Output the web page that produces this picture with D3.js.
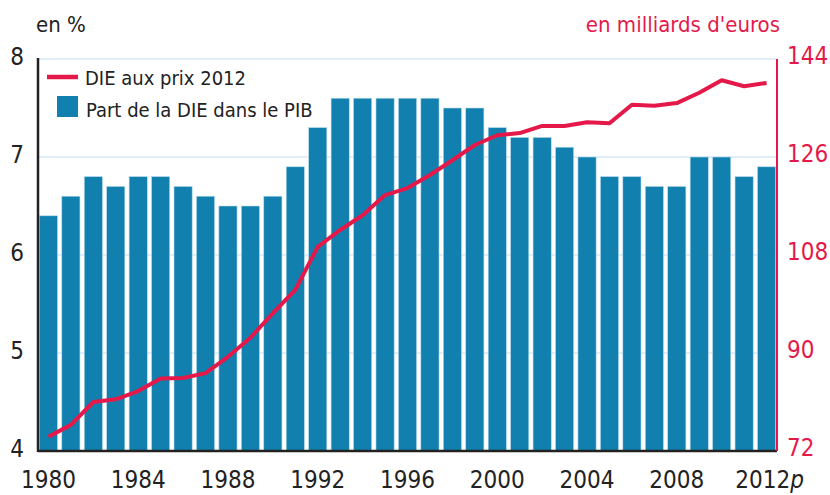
<!DOCTYPE html>
<html>
<head>
<meta charset="utf-8">
<script src="https://cdn.jsdelivr.net/npm/d3@7"></script>
<style>
  body { margin: 0; background: #fff; }
  svg text { font-family: "Liberation Sans Narrow", "Arial Narrow", "DejaVu Sans Condensed", sans-serif; }
</style>
</head>
<body>
<svg id="chart" width="830" height="495"></svg>
<script>
// data
var YEARS = d3.range(1980, 2013)
var PART_PIB = [6.4, 6.6, 6.8, 6.7, 6.8, 6.8, 6.7, 6.6, 6.5, 6.5, 6.6, 6.9,
  7.3, 7.6, 7.6, 7.6, 7.6, 7.6, 7.5, 7.5, 7.3, 7.2, 7.2, 7.1, 7.0, 6.8,
  6.8, 6.7, 6.7, 7.0, 7.0, 6.8, 6.9]
var DIE_PRIX = [74.6, 76.8, 81, 81.5, 83, 85.3, 85.4, 86.3, 89.3, 92.8, 97.3, 101.6,
  109.5, 112.6, 115.3, 119, 120.3, 122.7, 125.4, 128.2, 130, 130.4, 131.7, 131.7, 132.4, 132.2,
  135.6, 135.4, 135.9, 137.8, 140.1, 139, 139.6]
var LEFT_TICKS = [4, 5, 6, 7, 8]
var RIGHT_TICKS = [72, 90, 108, 126, 144]
var YEAR_TICKS = [1980, 1984, 1988, 1992, 1996, 2000, 2004, 2008, 2012]

var RED = "#e4194a", BLUE = "#1280ae", GRID = "#d4e9f6"
var M = {left: 38, right: 777, top: 59, bottom: 451}

var svg = d3.select("#chart")

var x = d3.scaleBand().domain(YEARS).range([M.left, M.right])
  .paddingInner(0.19).paddingOuter(0.06)
var yL = d3.scaleLinear().domain([4, 8]).range([M.bottom, M.top])
var yR = d3.scaleLinear().domain([72, 144]).range([M.bottom, M.top])

// grid lines (behind bars)
svg.append("g").selectAll("line")
  .data(LEFT_TICKS.slice(1))
  .enter().append("line")
    .attr("x1", M.left).attr("x2", M.right)
    .attr("y1", function(d){ return yL(d) })
    .attr("y2", function(d){ return yL(d) })
    .attr("stroke", GRID)
    .attr("stroke-width", 1.5)

// bars
svg.append("g").selectAll("rect")
  .data(PART_PIB)
  .enter().append("rect")
    .attr("x", function(d, i){ return x(YEARS[i]) })
    .attr("y", function(d){ return yL(d) })
    .attr("width", x.bandwidth())
    .attr("height", function(d){ return M.bottom - yL(d) })
    .attr("fill", BLUE)
    .attr("stroke", "#b9dcec")
    .attr("stroke-width", 0.6)

// line
var line = d3.line()
  .x(function(d, i){ return x(YEARS[i]) + x.bandwidth() / 2 })
  .y(function(d){ return yR(d) })

svg.append("path")
  .datum(DIE_PRIX)
  .attr("d", line)
  .attr("fill", "none")
  .attr("stroke", RED)
  .attr("stroke-width", 4)
  .attr("stroke-linejoin", "round")

// left axis
var axL = svg.append("g")
  .attr("transform", "translate(" + M.left + ",0)")
  .call(d3.axisLeft(yL).tickValues(LEFT_TICKS).tickFormat(d3.format("d")).tickSize(0))
axL.select(".domain").remove()
axL.selectAll("text")
  .attr("font-size", 24).attr("fill", "#222")
  .attr("font-family", null)
  .attr("dy", "0.22em")
  .attr("text-anchor", "middle")
  .attr("x", -21)

// right axis
var axR = svg.append("g")
  .attr("transform", "translate(" + M.right + ",0)")
  .call(d3.axisRight(yR).tickValues(RIGHT_TICKS).tickSize(0).tickPadding(10))
axR.select(".domain").remove()
axR.selectAll("text")
  .attr("font-size", 24).attr("fill", RED)
  .attr("font-family", null)
  .attr("dy", "0.18em")

// bottom axis labels
var axB = svg.append("g")
  .attr("transform", "translate(0," + M.bottom + ")")
  .call(d3.axisBottom(x).tickValues(YEAR_TICKS).tickSize(0).tickPadding(19))
axB.select(".domain").remove()
axB.selectAll("text")
  .attr("font-size", 24).attr("fill", "#222")
  .attr("font-family", null)
  .attr("dy", "0.74em")
axB.selectAll(".tick")
  .filter(function(d){ return d === 2012 })
  .select("text")
  .attr("dx", 3)
  .append("tspan")
    .attr("font-style", "italic")
    .text("p")

// axis lines
svg.append("line")
  .attr("x1", M.left).attr("x2", M.left).attr("y1", M.top - 1).attr("y2", M.bottom + 1)
  .attr("stroke", "#222").attr("stroke-width", 2.5)
svg.append("line")
  .attr("x1", M.left).attr("x2", M.right).attr("y1", M.bottom).attr("y2", M.bottom)
  .attr("stroke", "#222").attr("stroke-width", 2.5)
svg.append("line")
  .attr("x1", M.right).attr("x2", M.right).attr("y1", M.top).attr("y2", M.bottom)
  .attr("stroke", RED).attr("stroke-width", 2)

// axis titles
svg.append("text")
  .attr("x", 36).attr("y", 32)
  .attr("font-size", 22).attr("fill", "#222")
  .text("en %")
svg.append("text")
  .attr("x", 780).attr("y", 32)
  .attr("text-anchor", "end")
  .attr("font-size", 22).attr("fill", RED)
  .text("en milliards d'euros")

// legend
var leg = svg.append("g")
leg.append("line")
  .attr("x1", 47).attr("x2", 78).attr("y1", 77).attr("y2", 77)
  .attr("stroke", RED).attr("stroke-width", 4.5)
leg.append("text")
  .attr("x", 85).attr("y", 85)
  .attr("font-size", 20).attr("fill", "#222")
  .text("DIE aux prix 2012")
leg.append("rect")
  .attr("x", 57).attr("y", 96).attr("width", 21).attr("height", 21)
  .attr("fill", BLUE)
leg.append("text")
  .attr("x", 86).attr("y", 117)
  .attr("font-size", 20).attr("fill", "#222")
  .text("Part de la DIE dans le PIB")
</script>
</body>
</html>
